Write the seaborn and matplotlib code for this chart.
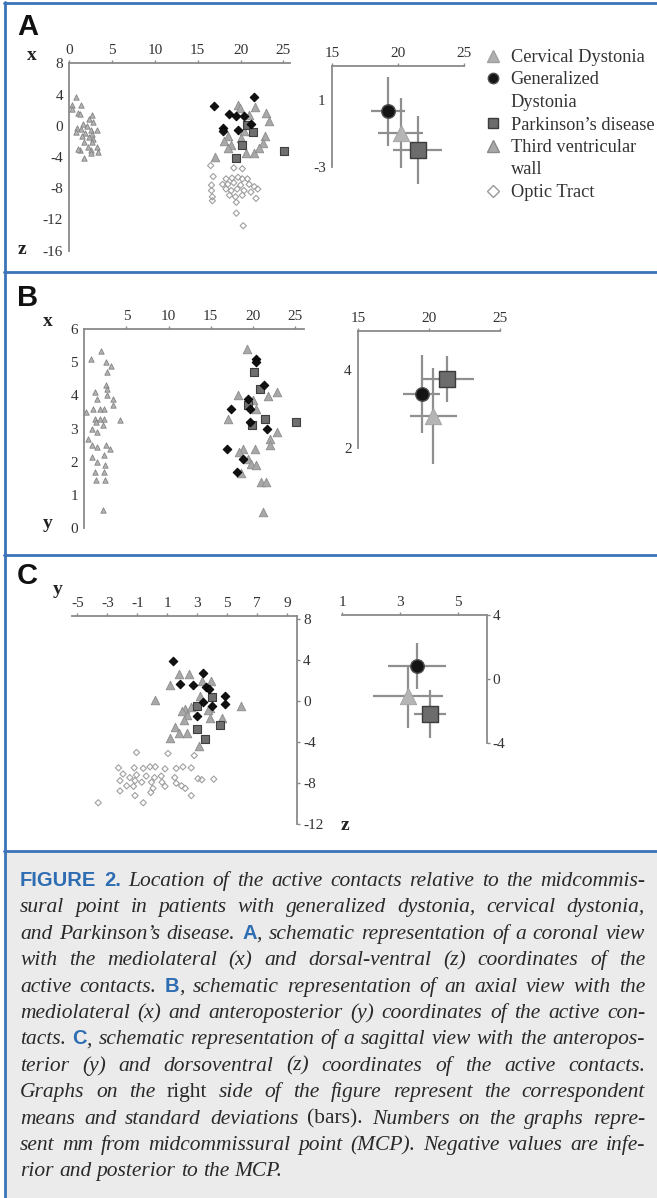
import re

import matplotlib
matplotlib.use('Agg')
import matplotlib.pyplot as plt
import seaborn as sns
from matplotlib.lines import Line2D
from matplotlib.patches import Rectangle

W, H = 657, 1198

# ---------------- data (mm from the midcommissural point) ----------------
# Panel A: coronal view, mediolateral x vs dorsal-ventral z
tvw_a_x = [0.8, 0.3, 1.4, 0.3, 1.0, 1.3, 2.6, 2.3, 2.8, 1.6, 2.1, 0.9, 1.4, 2.5, 3.2, 0.8,
           1.8, 2.6, 1.5, 2.3, 2.8, 1.7, 2.6, 2.2, 3.2, 2.5, 1.2, 3.4, 2.5, 1.7, 1.0]
tvw_a_z = [3.7, 2.7, 2.7, 2.2, 1.6, 1.5, 1.4, 0.9, 0.5, 0.2, 0.0, -0.3, -0.4, -0.5, -0.5, -0.8,
           -0.9, -1.1, -1.3, -1.5, -1.7, -2.1, -2.1, -2.7, -2.7, -3.1, -3.1, -3.3, -3.5, -4.1, -3.0]
cd_a_x = [19.7, 21.7, 23.0, 23.3, 20.4, 22.9, 18.5, 18.1, 18.9, 22.6, 18.5, 20.6, 21.6, 22.2,
          17.0, 20.0, 19.9, 21.0]
cd_a_z = [2.7, 2.4, 1.6, 0.6, -0.7, -1.3, -1.3, -2.0, -2.4, -2.2, -2.9, -3.5, -3.5, -2.9,
          -4.0, -1.6, 2.3, 1.4]
gd_a_x = [21.6, 16.9, 18.7, 19.5, 20.4, 18.0, 17.9, 19.7, 21.2]
gd_a_z = [3.7, 2.5, 1.5, 1.2, 1.3, -0.3, -0.7, -0.5, 0.2]
pd_a_x = [20.8, 21.5, 20.2, 19.5, 25.1]
pd_a_z = [0.1, -0.8, -2.5, -4.1, -3.2]
ot_a_x = [16.5, 16.8, 16.6, 16.6, 16.7, 16.7, 19.2, 20.2, 18.3, 19.0, 19.7, 20.2, 20.8, 17.9,
          18.5, 19.2, 20.0, 21.0, 21.6, 22.0, 18.3, 18.9, 19.6, 20.4, 21.2, 18.7, 19.4, 20.2,
          21.8, 19.5, 19.5, 20.3]
ot_a_z = [-5.1, -6.5, -7.6, -8.3, -9.1, -9.6, -5.4, -5.5, -6.8, -6.7, -6.6, -6.8, -6.8, -7.5,
          -7.5, -7.3, -7.6, -7.5, -7.8, -8.1, -8.1, -8.3, -8.1, -8.3, -8.5, -8.9, -9.1, -8.9,
          -9.3, -9.8, -11.2, -12.8]

# Panel B: axial view, mediolateral x vs anteroposterior y
tvw_b_x = [1.95, 0.8, 2.6, 3.2, 2.7, 2.6, 2.7, 1.3, 1.5, 3.4, 3.4, 2.7, 0.2, 1.0, 1.9, 2.3,
           1.3, 1.9, 2.3, 1.4, 2.2, 4.2, 0.9, 1.55, 0.4, 0.9, 1.55, 2.6, 3.05, 2.3, 0.9, 1.55,
           2.5, 2.35, 1.3, 1.4, 2.5, 2.2]
tvw_b_y = [5.35, 5.1, 5.0, 4.9, 4.7, 4.3, 4.2, 4.1, 3.9, 3.9, 3.7, 4.0, 3.5, 3.6, 3.6, 3.6,
           3.3, 3.3, 3.3, 3.2, 3.1, 3.25, 3.0, 2.9, 2.7, 2.5, 2.45, 2.5, 2.4, 2.2, 2.15, 2.0,
           1.9, 1.7, 1.7, 1.45, 1.45, 0.55]
cd_b_x = [19.35, 18.2, 21.8, 22.9, 17.05, 20.0, 20.4, 22.0, 22.0, 22.9, 20.2, 18.8, 18.4,
          19.4, 19.8, 20.4, 20.9, 21.6, 21.2, 18.6]
cd_b_y = [5.4, 4.0, 3.97, 4.1, 3.3, 3.85, 3.6, 2.7, 2.5, 2.9, 2.4, 2.4, 2.3, 2.1, 1.95, 1.9,
          1.4, 1.4, 0.5, 1.65]
gd_b_x = [20.3, 20.4, 21.3, 19.4, 17.4, 19.7, 19.7, 21.7, 16.9, 18.8, 18.05]
gd_b_y = [5.1, 5.0, 4.3, 3.9, 3.6, 3.6, 3.2, 3.0, 2.4, 2.1, 1.7]
pd_b_x = [20.1, 20.8, 19.4, 21.4, 25.1, 19.9]
pd_b_y = [4.7, 4.2, 3.7, 3.3, 3.2, 3.1]

# Panel C: sagittal view, anteroposterior y vs dorsoventral z
cd_c_y = [1.8, 2.45, 3.3, 3.9, 1.2, 0.2, 2.2, 2.0, 2.3, 2.1, 3.85, 3.85, 4.65, 5.9, 1.5,
          1.75, 2.3, 1.2, 3.1, 3.2, 3.7, 2.6]
cd_c_z = [2.6, 2.6, 1.95, 1.95, 1.6, 0.15, -0.8, -0.95, -1.3, -1.85, -0.65, -1.6, -1.6, -0.5,
          -2.5, -3.1, -3.1, -3.55, -4.4, 0.5, -0.9, -0.6]
gd_c_y = [1.4, 3.4, 1.85, 2.7, 3.6, 3.8, 4.85, 4.0, 4.85, 2.95, 3.35]
gd_c_z = [3.9, 2.7, 1.7, 1.55, 1.4, 1.2, 0.5, -0.5, -0.3, -1.45, -0.1]
pd_c_y = [3.95, 2.95, 4.5, 2.95, 3.5]
pd_c_z = [0.4, -0.5, -2.35, -2.75, -3.65]
ot_c_y = [-1.05, 1.05, 2.8, -2.25, -1.2, -0.6, -0.15, 0.2, 0.85, 1.6, 2.05, 2.6, -1.95, -1.5,
          -1.05, -0.4, 0.15, 0.6, 1.5, 3.05, 3.3, 4.1, -2.15, -1.15, -0.7, -0.05, 0.65, -1.7,
          -1.25, 0.05, 0.85, 1.95, 2.2, -2.15, -1.15, -0.1, 2.6, -3.6, -0.6, 1.6]
ot_c_z = [-5.0, -5.1, -5.3, -6.5, -6.5, -6.55, -6.4, -6.4, -6.6, -6.55, -6.4, -6.5, -7.1, -7.45,
          -7.2, -7.3, -7.45, -7.3, -7.45, -7.55, -7.65, -7.6, -7.75, -7.75, -7.9, -7.9, -7.9,
          -8.25, -8.3, -8.5, -8.3, -8.25, -8.5, -8.75, -9.2, -8.9, -9.2, -9.9, -9.9, -8.0]

# means and standard deviations, order: GD, CD, PD
mean_groups = ['GD', 'CD', 'PD']
a_mean_x = [19.25, 20.2, 21.5]
a_mean_z = [0.3, -1.0, -2.0]
a_sd_x = [1.3, 1.7, 1.85]
a_sd_z = [2.07, 2.07, 2.03]
b_mean_x = [19.5, 20.3, 21.3]
b_mean_y = [3.38, 2.82, 3.77]
b_sd_x = [1.3, 1.65, 1.85]
b_sd_y = [1.0, 1.22, 0.6]
c_mean_y = [3.6, 3.28, 4.04]
c_mean_z = [0.8, -1.1, -2.2]
c_sd_y = [1.0, 1.22, 0.55]
c_sd_z = [1.45, 1.95, 1.5]

legend_labels = ['Cervical Dystonia', 'Generalized', 'Dystonia', 'Parkinson\u2019s disease',
                 'Third ventricular', 'wall', 'Optic Tract']

caption_lines = [
    '{b:FIGURE} {b:2.} Location of the active contacts relative to the midcommis-',
    'sural point in patients with generalized dystonia, cervical dystonia,',
    'and Parkinson\u2019s disease. {b:A}, schematic representation of a coronal view',
    'with the mediolateral (x) and dorsal-ventral (z) coordinates of the',
    'active contacts. {b:B}, schematic representation of an axial view with the',
    'mediolateral (x) and anteroposterior (y) coordinates of the active con-',
    'tacts. {b:C}, schematic representation of a sagittal view with the anteropos-',
    'terior (y) and dorsoventral (z) coordinates of the active contacts.',
    'Graphs on the {r:right} side of the figure represent the correspondent',
    'means and standard deviations {r:(bars).} Numbers on the graphs repre-',
    'sent mm from midcommissural point (MCP). Negative values are infe-',
    'rior and posterior to the MCP.',
]

# ---------------- styling ----------------
BLUE = '#3a73b8'
AXIS_GRAY = '#8a8a8a'
TXT = '#333333'

POINT_STYLE = {
    'CD': dict(marker='^', s=38, color='#a8a8a8', edgecolor='#8c8c8c', linewidth=0.6),
    'TVW': dict(marker='^', s=15, color='#b4b4b4', edgecolor='#828282', linewidth=0.6),
    'GD': dict(marker='D', s=20, color='#111111', edgecolor='#000000', linewidth=0.6),
    'PD': dict(marker='s', s=36, color='#6f6f6f', edgecolor='#3f3f3f', linewidth=0.8),
    'OT': dict(marker='D', s=10, color='#a0a0a0', facecolor='none', edgecolor='#a0a0a0',
               linewidth=0.8),
}
MEAN_STYLE = {
    'GD': dict(marker='o', s=95, color='#141414', edgecolor='#505050', linewidth=1.0),
    'CD': dict(marker='^', s=140, color='#b5b5b5', edgecolor='#a0a0a0', linewidth=0.6),
    'PD': dict(marker='s', s=120, color='#6c6c6c', edgecolor='#3c3c3c', linewidth=1.0),
}

sns.set_theme(style='white')
plt.rcParams['font.family'] = ['Liberation Serif', 'DejaVu Serif']
plt.rcParams['axes.unicode_minus'] = False

fig = plt.figure(figsize=(W / 100, H / 100), dpi=100)
fig.patch.set_facecolor('white')


def px_axes(left, top, width, height):
    return fig.add_axes([left / W, 1 - (top + height) / H, width / W, height / H])


def style_axes(ax, xlim, ylim, xticks, yticks, yside='left'):
    ax.set_xlim(xlim)
    ax.set_ylim(ylim)
    ax.set_xticks(xticks)
    ax.set_yticks(yticks)
    ax.set_facecolor('none')
    for name, sp in ax.spines.items():
        sp.set_visible(name in ('top', yside))
        sp.set_color(AXIS_GRAY)
        sp.set_linewidth(1.3)
    ax.xaxis.tick_top()
    if yside == 'right':
        ax.yaxis.tick_right()
    ax.tick_params(length=2.5, width=1, color=AXIS_GRAY, labelsize=11,
                   labelcolor=TXT, pad=2)
    ax.set_xlabel('')
    ax.set_ylabel('')
    ax.grid(False)


def points(ax, x, y, kind):
    sns.scatterplot(x=x, y=y, ax=ax, legend=False, clip_on=False, zorder=3, **POINT_STYLE[kind])


def means(ax, mx, my, sx, sy):
    eb = ax.errorbar(mx, my, xerr=sx, yerr=sy, fmt='none', ecolor='#8f8f8f',
                     elinewidth=1.6, capsize=0, zorder=2)
    for art in eb.lines[2]:
        art.set_clip_on(False)
    for g, x, y in zip(mean_groups, mx, my):
        sns.scatterplot(x=[x], y=[y], ax=ax, legend=False, clip_on=False, zorder=3,
                        **MEAN_STYLE[g])


# ---- panel A ----
ax = px_axes(69.3, 63.3, 221, 187.4)
points(ax, tvw_a_x, tvw_a_z, 'TVW')
points(ax, ot_a_x, ot_a_z, 'OT')
points(ax, cd_a_x, cd_a_z, 'CD')
points(ax, pd_a_x, pd_a_z, 'PD')
points(ax, gd_a_x, gd_a_z, 'GD')
style_axes(ax, (0, 25.8), (-16, 8), [0, 5, 10, 15, 20, 25], [8, 4, 0, -4, -8, -12, -16])

ax = px_axes(332, 66, 132, 101)
means(ax, a_mean_x, a_mean_z, a_sd_x, a_sd_z)
style_axes(ax, (15, 25), (-3, 3), [15, 20, 25], [1, -3])

# ---- panel B ----
ax = px_axes(84.2, 329, 219.4, 199.3)
points(ax, tvw_b_x, tvw_b_y, 'TVW')
points(ax, cd_b_x, cd_b_y, 'CD')
points(ax, pd_b_x, pd_b_y, 'PD')
points(ax, gd_b_x, gd_b_y, 'GD')
style_axes(ax, (0, 26), (0, 6), [5, 10, 15, 20, 25], [0, 1, 2, 3, 4, 5, 6])

ax = px_axes(358, 331, 142, 117)
means(ax, b_mean_x, b_mean_y, b_sd_x, b_sd_y)
style_axes(ax, (15, 25), (2, 5), [15, 20, 25], [2, 4])

# ---- panel C ----
ax = px_axes(71.7, 616, 225, 208.3)
points(ax, ot_c_y, ot_c_z, 'OT')
points(ax, cd_c_y, cd_c_z, 'CD')
points(ax, pd_c_y, pd_c_z, 'PD')
points(ax, gd_c_y, gd_c_z, 'GD')
style_axes(ax, (-5.37, 9.63), (-12, 8.3), [-5, -3, -1, 1, 3, 5, 7, 9],
           [8, 4, 0, -4, -8, -12], yside='right')

ax = px_axes(342, 615, 144.5, 127.7)
means(ax, c_mean_y, c_mean_z, c_sd_y, c_sd_z)
style_axes(ax, (1, 6), (-4, 4), [1, 3, 5], [4, 0, -4], yside='right')

# ---- legend ----
blank = Line2D([], [], linestyle='none', marker='')
handles = [
    Line2D([], [], linestyle='none', marker='^', markersize=9, color='#b0b0b0', mec='#a0a0a0'),
    Line2D([], [], linestyle='none', marker='o', markersize=7.5, color='#141414', mec='#505050'),
    blank,
    Line2D([], [], linestyle='none', marker='s', markersize=7.5, color='#6c6c6c', mec='#3c3c3c'),
    Line2D([], [], linestyle='none', marker='^', markersize=8, color='#a8a8a8', mec='#8a8a8a'),
    blank,
    Line2D([], [], linestyle='none', marker='D', markersize=6, mfc='none', mec='#9a9a9a'),
]
leg = fig.legend(handles, legend_labels, loc='upper left', bbox_to_anchor=(484 / W, 1 - 49 / H),
                 frameon=False, prop={'family': 'Liberation Serif', 'size': 13.2},
                 handlelength=1.0, handletextpad=0.45, labelspacing=0.3,
                 borderpad=0, borderaxespad=0)
for t in leg.get_texts():
    t.set_color(TXT)

# ---- panel letters and axis names ----
for letter, y in [('A', 27), ('B', 298), ('C', 576)]:
    fig.text(17 / W, 1 - y / H, letter, fontsize=21, fontweight='bold',
             family='Liberation Sans', color='#111111', va='center', ha='left')
for name, x, y in [('x', 32, 56), ('z', 22, 249), ('x', 48, 322), ('y', 48, 523),
                   ('y', 58, 589), ('z', 345, 826)]:
    fig.text(x / W, 1 - y / H, name, fontsize=14, fontweight='bold', color='#222222',
             va='center', ha='center')

# ---- frame lines and caption box ----
fig.add_artist(Rectangle((6 / W, 0), 1, 1 - 852 / H, transform=fig.transFigure,
                         facecolor='#ebebeb', edgecolor='none', zorder=0))
for y in (3, 272, 555, 851):
    fig.add_artist(Line2D([4 / W, 1], [1 - y / H] * 2, transform=fig.transFigure,
                          color=BLUE, lw=2))
fig.add_artist(Line2D([5 / W] * 2, [0, 1 - 2 / H], transform=fig.transFigure, color=BLUE, lw=2))

CAP_SIZE = 15.5
CAP_STYLE = {
    'i': dict(family='Liberation Serif', style='italic', color='#2a2a2a', fontsize=CAP_SIZE),
    'r': dict(family='Liberation Serif', style='normal', color='#2a2a2a', fontsize=CAP_SIZE),
    'b': dict(family='Liberation Sans', weight='bold', color='#2f6db3', fontsize=CAP_SIZE - 1),
}
CAP_LEFT, CAP_RIGHT = 20, 645
renderer = fig.canvas.get_renderer()


def caption_line(line, y, justify):
    placed = []
    for word in line.split(' '):
        arts, widths = [], []
        for part in re.split(r'(\{\w:[^}]*\})', word):
            if not part:
                continue
            m = re.fullmatch(r'\{(\w):([^}]*)\}', part)
            seg, kind = (m.group(2), m.group(1)) if m else (part, 'i')
            t = fig.text(0, 1 - y / H, seg, va='baseline', ha='left', **CAP_STYLE[kind])
            arts.append(t)
            widths.append(t.get_window_extent(renderer).width)
        placed.append((arts, widths))
    total = sum(sum(w) for _, w in placed)
    gap = CAP_SIZE * 1.389 * 0.25
    if justify and len(placed) > 1:
        gap = max(3.0, (CAP_RIGHT - CAP_LEFT - total) / (len(placed) - 1))
    x = CAP_LEFT
    for arts, widths in placed:
        for t, w in zip(arts, widths):
            t.set_x(x / W)
            x += w
        x += gap


for i, line in enumerate(caption_lines):
    caption_line(line, 886 + i * 26.4, justify=i < len(caption_lines) - 1)

fig.savefig('out.png', dpi=100)
